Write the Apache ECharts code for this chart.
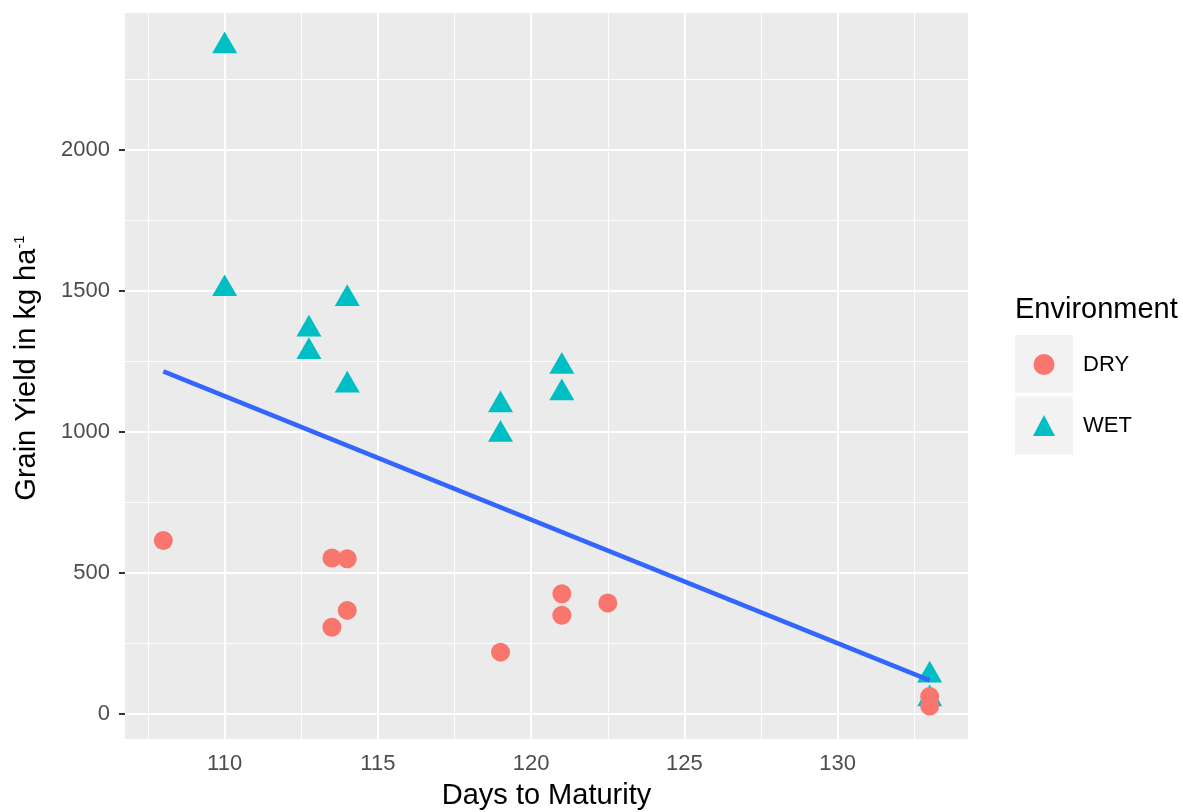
<!DOCTYPE html>
<html>
<head>
<meta charset="utf-8">
<title>Grain Yield vs Days to Maturity</title>
<script src="https://cdn.jsdelivr.net/npm/echarts@6/dist/echarts.min.js"></script>
<style>
  html, body { margin: 0; padding: 0; background: #ffffff; }
  #chart { width: 1183px; height: 812px; }
</style>
</head>
<body>
<div id="chart"></div>
<script>
// Days to maturity (x) and grain yield in kg/ha (y) per environment
const dryDays  = [108, 113.5, 114, 114, 113.5, 119, 121, 121, 122.5, 133, 133];
const dryYield = [615, 553, 550, 367, 307, 219, 426, 350, 393, 62, 28];

const wetDays  = [110, 110, 114, 112.75, 112.75, 114, 119, 119, 121, 121, 133, 133];
const wetYield = [2368, 1507, 1472, 1364, 1284, 1165, 1095, 991, 1232, 1138, 137, 53];

// Linear trend line over all genotypes (end points of the fitted line)
const trendDays  = [108, 133];
const trendYield = [1214, 119];

// Axis ticks and grid
const xTicks      = [110, 115, 120, 125, 130];
const xMinorTicks = [107.5, 112.5, 117.5, 122.5, 127.5, 132.5];
const yTicks      = [0, 500, 1000, 1500, 2000];
const yMinorTicks = [250, 750, 1250, 1750, 2250];

const xRange = [106.75, 134.25];
const yRange = [-89, 2485];

const FONT = '"Liberation Sans", Arial, Helvetica, sans-serif';
const zip = (xs, ys) => xs.map((x, i) => [x, ys[i]]);

const gridLines = [].concat(
  xMinorTicks.map(v => ({ xAxis: v, lineStyle: { width: 1 } })),
  yMinorTicks.map(v => ({ yAxis: v, lineStyle: { width: 1 } })),
  xTicks.map(v => ({ xAxis: v, lineStyle: { width: 2 } })),
  yTicks.map(v => ({ yAxis: v, lineStyle: { width: 2 } }))
);

const chart = echarts.init(document.getElementById('chart'), null, { renderer: 'canvas' });

chart.setOption({
  animation: false,
  backgroundColor: '#ffffff',
  textStyle: { fontFamily: FONT },
  grid: {
    left: 125, top: 13, width: 843, height: 726,
    outerBoundsMode: 'none',
    containLabel: false,
    show: true, backgroundColor: '#EBEBEB', borderWidth: 0
  },
  title: {
    text: 'Environment',
    left: 1010, top: 290,
    textStyle: { fontFamily: FONT, fontSize: 29, fontWeight: 'normal', color: '#000000' }
  },
  legend: {
    orient: 'vertical',
    left: 1033, top: 353.5,
    padding: 0,
    itemWidth: 22, itemHeight: 21, itemGap: 39,
    selectedMode: false,
    data: [
      { name: 'DRY', icon: 'circle' },
      { name: 'WET', icon: 'triangle' }
    ],
    textStyle: { fontFamily: FONT, fontSize: 22, color: '#000000', padding: [0, 0, 0, 23], lineHeight: 22 }
  },
  graphic: [
    { type: 'rect', left: 1015, top: 335, shape: { width: 58, height: 58 }, style: { fill: '#F2F2F2' }, z: -1, silent: true },
    { type: 'rect', left: 1015, top: 396.5, shape: { width: 58, height: 58 }, style: { fill: '#F2F2F2' }, z: -1, silent: true }
  ],
  xAxis: {
    type: 'value',
    min: xRange[0], max: xRange[1],
    name: 'Days to Maturity',
    nameLocation: 'middle',
    nameGap: 42,
    nameTextStyle: { fontFamily: FONT, fontSize: 29, color: '#000000' },
    axisLine: { show: false },
    axisTick: { show: true, customValues: xTicks, length: 6, lineStyle: { color: '#333333', width: 2 } },
    axisLabel: { customValues: xTicks, margin: 14, fontFamily: FONT, fontSize: 22, color: '#4D4D4D', formatter: v => String(v) },
    splitLine: { show: false }
  },
  yAxis: {
    type: 'value',
    min: yRange[0], max: yRange[1],
    name: 'Grain Yield in kg ha{s|-1}',
    nameLocation: 'middle',
    nameRotate: 90,
    nameGap: 84,
    nameTextStyle: {
      fontFamily: FONT, fontSize: 29, color: '#000000',
      padding: [0, 0, 0, 16],
      rich: { s: { fontFamily: FONT, fontSize: 15, color: '#000000', padding: [0, 0, 14, 0] } }
    },
    axisLine: { show: false },
    axisTick: { show: true, customValues: yTicks, length: 6, lineStyle: { color: '#333333', width: 2 } },
    axisLabel: { customValues: yTicks, margin: 15, fontFamily: FONT, fontSize: 22, color: '#4D4D4D', formatter: v => String(v) },
    splitLine: { show: false }
  },
  series: [
    {
      // panel grid lines drawn at the tick positions
      name: 'grid',
      type: 'line',
      data: [],
      z: 1,
      silent: true,
      markLine: {
        silent: true,
        z: 1,
        symbol: ['none', 'none'],
        label: { show: false },
        animation: false,
        lineStyle: { color: '#ffffff', type: 'solid' },
        emphasis: { disabled: true },
        data: gridLines
      }
    },
    {
      name: 'WET',
      type: 'scatter',
      data: zip(wetDays, wetYield),
      symbol: 'triangle',
      symbolSize: [25, 21.7],
      symbolOffset: [0, -3.6],
      itemStyle: { color: '#00BFC4', opacity: 1 },
      z: 3
    },
    {
      name: 'DRY',
      type: 'scatter',
      data: zip(dryDays, dryYield),
      symbol: 'circle',
      symbolSize: 19,
      itemStyle: { color: '#F8766D', opacity: 1 },
      z: 4
    },
    {
      name: 'trend',
      type: 'line',
      data: zip(trendDays, trendYield),
      showSymbol: false,
      symbol: 'none',
      lineStyle: { color: '#3366FF', width: 4.6 },
      silent: true,
      z: 5
    }
  ]
});
</script>
</body>
</html>
